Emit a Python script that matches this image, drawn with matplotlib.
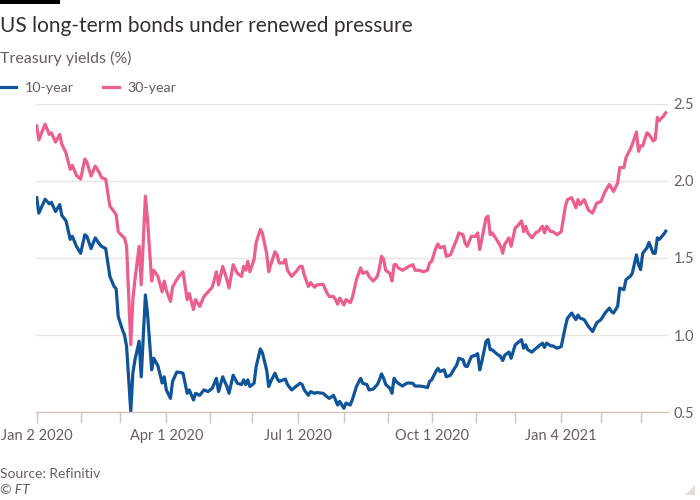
import numpy as np
import matplotlib
matplotlib.use("Agg")
import matplotlib.pyplot as plt
from matplotlib.patches import Rectangle, Polygon

plt.rcParams['font.family'] = ['Lato', 'DejaVu Sans']

# bond-market holidays: the x axis counts trading days, not calendar days
holidays = ['2020-01-20', '2020-02-17', '2020-04-10', '2020-05-25', '2020-07-03',
            '2020-09-07', '2020-10-12', '2020-11-11', '2020-11-26', '2020-12-25',
            '2021-01-01', '2021-01-18', '2021-02-15']

dates = [
    '2020-01-02', '2020-01-03', '2020-01-08', '2020-01-10', '2020-01-13', '2020-01-15',
    '2020-01-17', '2020-01-21', '2020-01-23', '2020-01-27', '2020-01-28', '2020-01-30',
    '2020-02-03', '2020-02-05', '2020-02-06', '2020-02-10', '2020-02-12', '2020-02-14',
    '2020-02-18', '2020-02-20', '2020-02-24', '2020-02-26', '2020-02-27', '2020-02-28',
    '2020-03-03', '2020-03-04', '2020-03-05', '2020-03-09', '2020-03-10', '2020-03-11',
    '2020-03-13', '2020-03-16', '2020-03-18', '2020-03-19', '2020-03-23', '2020-03-24',
    '2020-03-26', '2020-03-30', '2020-03-31', '2020-04-01', '2020-04-03', '2020-04-06',
    '2020-04-08',
    '2020-04-09', '2020-04-14', '2020-04-16', '2020-04-17', '2020-04-21', '2020-04-22',
    '2020-04-24', '2020-04-28', '2020-04-30', '2020-05-04', '2020-05-06', '2020-05-07',
    '2020-05-11', '2020-05-13', '2020-05-14', '2020-05-18', '2020-05-20', '2020-05-22',
    '2020-05-26', '2020-05-27', '2020-05-28', '2020-05-29', '2020-06-02', '2020-06-03',
    '2020-06-05', '2020-06-08', '2020-06-10', '2020-06-11', '2020-06-12', '2020-06-16',
    '2020-06-17', '2020-06-18', '2020-06-22', '2020-06-23', '2020-06-24', '2020-06-26',
    '2020-06-30', '2020-07-02', '2020-07-06', '2020-07-07', '2020-07-09', '2020-07-10',
    '2020-07-14', '2020-07-15',
    '2020-07-20', '2020-07-22', '2020-07-23', '2020-07-27', '2020-07-28', '2020-07-29',
    '2020-07-30', '2020-08-03', '2020-08-04', '2020-08-06', '2020-08-07', '2020-08-11',
    '2020-08-13', '2020-08-14', '2020-08-18', '2020-08-19', '2020-08-21', '2020-08-25',
    '2020-08-26', '2020-08-27', '2020-08-28', '2020-08-31', '2020-09-02', '2020-09-03',
    '2020-09-04', '2020-09-08', '2020-09-09', '2020-09-11', '2020-09-15', '2020-09-16',
    '2020-09-18', '2020-09-21', '2020-09-23', '2020-09-25', '2020-09-29', '2020-09-30',
    '2020-10-01', '2020-10-05', '2020-10-06', '2020-10-07', '2020-10-09', '2020-10-13',
    '2020-10-15', '2020-10-16', '2020-10-20', '2020-10-21', '2020-10-23',
    '2020-10-26', '2020-10-27', '2020-10-29', '2020-11-02', '2020-11-03', '2020-11-04',
    '2020-11-05', '2020-11-09', '2020-11-10', '2020-11-12', '2020-11-13', '2020-11-17',
    '2020-11-19', '2020-11-20', '2020-11-23', '2020-11-25', '2020-11-27', '2020-12-01',
    '2020-12-02', '2020-12-04', '2020-12-07', '2020-12-08', '2020-12-09', '2020-12-11',
    '2020-12-15', '2020-12-16', '2020-12-18', '2020-12-21', '2020-12-22', '2020-12-24',
    '2020-12-28', '2020-12-30', '2021-01-04', '2021-01-06', '2021-01-07', '2021-01-11',
    '2021-01-13', '2021-01-14', '2021-01-15', '2021-01-20', '2021-01-22', '2021-01-26',
    '2021-01-28', '2021-02-01', '2021-02-03', '2021-02-05', '2021-02-08', '2021-02-09',
    '2021-02-11', '2021-02-12', '2021-02-17', '2021-02-18', '2021-02-22', '2021-02-23',
    '2021-02-25', '2021-02-26', '2021-03-01', '2021-03-02', '2021-03-04', '2021-03-05',
    '2021-03-09', '2021-03-10', '2021-03-11', '2021-03-12', '2021-03-16', '2021-03-17',
]

ten_year = [
    1.89, 1.79, 1.88, 1.85, 1.86, 1.80, 1.845, 1.775, 1.74, 1.62, 1.64, 1.575,
    1.53, 1.65, 1.64, 1.56, 1.63, 1.59, 1.575, 1.56, 1.38, 1.315, 1.30, 1.12,
    1.035, 1.00, 0.926, 0.504, 0.755, 0.84, 0.96, 0.73, 1.26, 1.14, 0.775, 0.85,
    0.80, 0.69, 0.73, 0.645, 0.59, 0.70, 0.76,
    0.76, 0.753, 0.623, 0.645, 0.58, 0.623, 0.61, 0.645, 0.634, 0.656, 0.72, 0.634,
    0.73, 0.667, 0.623, 0.74, 0.688, 0.68, 0.71, 0.68, 0.71, 0.667, 0.688, 0.796,
    0.91, 0.885, 0.775, 0.667, 0.70, 0.753, 0.72, 0.70, 0.71, 0.715, 0.68, 0.645,
    0.667, 0.688, 0.68, 0.645, 0.61, 0.634, 0.623, 0.628,
    0.623, 0.60, 0.59, 0.61, 0.58, 0.547, 0.57, 0.526, 0.56, 0.547, 0.58, 0.667,
    0.72, 0.688, 0.68, 0.645, 0.65, 0.68, 0.71, 0.749, 0.72, 0.68, 0.656, 0.623,
    0.72, 0.70, 0.688, 0.67, 0.688, 0.69, 0.688, 0.67, 0.67, 0.667, 0.66, 0.70,
    0.71, 0.764, 0.785, 0.764, 0.775, 0.73, 0.74, 0.764, 0.807, 0.85, 0.84,
    0.80, 0.796, 0.861, 0.87, 0.88, 0.775, 0.828, 0.958, 0.972, 0.905, 0.905, 0.88,
    0.861, 0.835, 0.87, 0.89, 0.85, 0.937, 0.948, 0.97, 0.915, 0.937, 0.905, 0.89,
    0.915, 0.926, 0.948, 0.92, 0.948, 0.93, 0.93, 0.915, 0.926, 1.056, 1.11, 1.143,
    1.10, 1.13, 1.11, 1.10, 1.056, 1.023, 1.08, 1.10, 1.143, 1.175, 1.153, 1.143,
    1.186, 1.305, 1.294, 1.36, 1.38, 1.40, 1.52, 1.456, 1.424, 1.53, 1.565, 1.60,
    1.53, 1.53, 1.63, 1.62, 1.652, 1.673,
]

thirty_year = [
    2.355, 2.264, 2.366, 2.30, 2.31, 2.25, 2.30, 2.236, 2.18, 2.073, 2.10, 2.034,
    2.01, 2.14, 2.12, 2.03, 2.095, 2.05, 2.02, 2.01, 1.835, 1.80, 1.78, 1.67,
    1.64, 1.63, 1.575, 0.937, 1.23, 1.36, 1.575, 1.326, 1.90, 1.75, 1.35, 1.42,
    1.38, 1.28, 1.35, 1.29, 1.218, 1.31, 1.36,
    1.38, 1.41, 1.23, 1.27, 1.165, 1.23, 1.186, 1.25, 1.28, 1.31, 1.41, 1.325,
    1.445, 1.36, 1.305, 1.456, 1.40, 1.38, 1.445, 1.42, 1.478, 1.41, 1.49, 1.60,
    1.684, 1.66, 1.53, 1.41, 1.456, 1.54, 1.52, 1.467, 1.467, 1.49, 1.42, 1.38,
    1.41, 1.445, 1.445, 1.39, 1.315, 1.34, 1.31, 1.325,
    1.33, 1.27, 1.25, 1.25, 1.23, 1.20, 1.24, 1.195, 1.23, 1.21, 1.24, 1.36,
    1.435, 1.40, 1.41, 1.38, 1.35, 1.38, 1.435, 1.51, 1.49, 1.42, 1.40, 1.35,
    1.456, 1.456, 1.435, 1.42, 1.435, 1.445, 1.456, 1.42, 1.42, 1.41, 1.42, 1.467,
    1.478, 1.565, 1.59, 1.565, 1.575, 1.51, 1.52, 1.554, 1.62, 1.662, 1.65,
    1.595, 1.575, 1.64, 1.64, 1.662, 1.554, 1.62, 1.76, 1.77, 1.65, 1.662, 1.62,
    1.575, 1.53, 1.59, 1.63, 1.575, 1.695, 1.705, 1.74, 1.67, 1.705, 1.662, 1.63,
    1.666, 1.67, 1.705, 1.662, 1.705, 1.67, 1.67, 1.65, 1.67, 1.835, 1.878, 1.89,
    1.825, 1.878, 1.845, 1.878, 1.81, 1.79, 1.855, 1.865, 1.93, 1.976, 1.955, 1.93,
    1.985, 2.085, 2.085, 2.15, 2.203, 2.235, 2.316, 2.19, 2.225, 2.225, 2.31, 2.30,
    2.257, 2.268, 2.41, 2.39, 2.42, 2.44,
]

# first trading day of each month -> tick marks; some of them get a label
tick_dates = ['2020-01-02', '2020-02-03', '2020-03-02', '2020-04-01', '2020-05-01',
              '2020-06-01', '2020-07-01', '2020-08-03', '2020-09-01', '2020-10-01',
              '2020-11-02', '2020-12-01', '2021-01-04', '2021-02-01', '2021-03-01']
tick_labels = ['Jan 2 2020', '', '', 'Apr 1 2020', '', '', 'Jul 1 2020', '', '',
               'Oct 1 2020', '', '', 'Jan 4 2021', '', '']
y_ticks = [0.5, 1.0, 1.5, 2.0, 2.5]

start = np.datetime64('2020-01-02')
hol = np.array(holidays, dtype='datetime64[D]')
x = np.busday_count(start, np.array(dates, dtype='datetime64[D]'), holidays=hol)
xt = np.busday_count(start, np.array(tick_dates, dtype='datetime64[D]'), holidays=hol)

blue = '#0f5499'
pink = '#eb5e8d'
grey = '#66605c'
grid_c = '#ebe5df'
axis_c = '#cfc6bd'

fig = plt.figure(figsize=(7, 5), dpi=100)
fig.patch.set_facecolor('white')
ax = fig.add_axes([0.051, 0.1754, 0.903, 0.6176])

l10, = ax.plot(x, ten_year, color=blue, lw=2.3, label='10-year', solid_joinstyle='round')
l30, = ax.plot(x, thirty_year, color=pink, lw=2.3, label='30-year', solid_joinstyle='round')

ax.set_xlim(-0.5, 302)
ax.set_ylim(0.5, 2.5)
ax.set_xticks(xt)
ax.set_xticklabels(tick_labels)
ax.set_yticks(y_ticks)
ax.set_yticklabels(['%.1f' % v for v in y_ticks])
ax.yaxis.tick_right()
ax.grid(axis='y', color=grid_c, lw=1)
ax.set_axisbelow(True)
for s in ['top', 'left', 'right']:
    ax.spines[s].set_visible(False)
ax.spines['bottom'].set_color(axis_c)
ax.spines['bottom'].set_linewidth(1)
ax.tick_params(axis='x', length=8, width=1, color=axis_c, labelcolor=grey,
               labelsize=10.5, pad=4)
ax.tick_params(axis='y', length=0, labelcolor=grey, labelsize=10.5, pad=4)

fig.legend(handles=[l10, l30], loc='center left', bbox_to_anchor=(0, 1 - 88 / 500),
           ncol=2, frameon=False, fontsize=10.3, handlelength=1.1, handletextpad=0.6,
           columnspacing=2.1, borderpad=0, borderaxespad=0, labelcolor=grey)

fig.patches.append(Rectangle((0, 1 - 4 / 500), 60 / 700, 4 / 500, transform=fig.transFigure,
                             color='black', lw=0))
fig.text(0, 1 - 32 / 500, 'US long-term bonds under renewed pressure', fontsize=15.0,
         color='#33302e', va='baseline', ha='left')
fig.text(0, 1 - 63 / 500, 'Treasury yields (%)', fontsize=11.5, color=grey,
         va='baseline', ha='left')
fig.text(0, 1 - 478.5 / 500, 'Source: Refinitiv', fontsize=10, color=grey,
         va='baseline', ha='left')
fig.text(0, 1 - 494.3 / 500, '© FT', fontsize=10, color=grey, style='italic',
         va='baseline', ha='left')
fig.patches.append(Polygon([(695 / 700, 5 / 500), (695 / 700, 15 / 500), (685 / 700, 5 / 500)],
                           closed=True, transform=fig.transFigure, color='#e8ddd3', lw=0))

fig.savefig('out.png', dpi=100, facecolor='white')
